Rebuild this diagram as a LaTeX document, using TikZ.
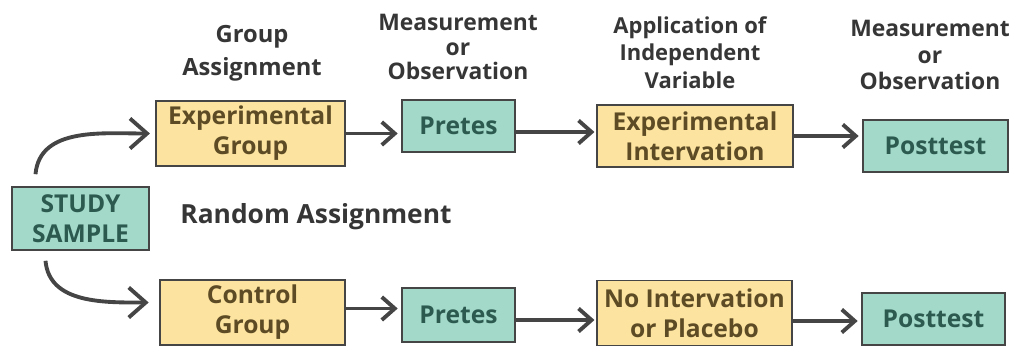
\documentclass[tikz,border=0pt]{standalone}
\usepackage{fontspec}
\setmainfont{Open Sans}
\usepackage{xcolor}
\usepackage{tikz}
\usetikzlibrary{positioning,calc,arrows.meta}
\definecolor{boxyel}{HTML}{FCE3A0}
\definecolor{boxteal}{HTML}{A2D9C9}
\definecolor{txtyel}{HTML}{5C4B24}
\definecolor{txtteal}{HTML}{2C5A4F}
\definecolor{edge}{HTML}{454545}
\definecolor{headtxt}{HTML}{363636}

\begin{document}
\begin{tikzpicture}[
    yelbox/.style={draw=edge, line width=0.9pt, fill=boxyel, text=txtyel, font=\bfseries\fontsize{14}{17}\selectfont, align=center, inner sep=0pt},
    tealbox/.style={draw=edge, line width=0.9pt, fill=boxteal, text=txtteal, font=\bfseries\fontsize{14}{17}\selectfont, align=center, inner sep=0pt},
    head/.style={text=headtxt, font=\bfseries\fontsize{12.5}{14}\selectfont, align=center},
    arr/.style={draw=edge, line width=2.2pt, -{Straight Barb[length=2.6mm,width=4.6mm]}},
    bigarr/.style={draw=edge, line width=2.2pt, -{Straight Barb[length=3.4mm,width=6mm]}}
]
    \useasboundingbox (0,0) rectangle (20.34,7);
    % boxes
    \node[tealbox, minimum width=2.74cm, minimum height=1.26cm] (sample) at (1.61,2.63) {STUDY\\SAMPLE};
    \node[yelbox, minimum width=3.78cm, minimum height=1.30cm] (expgrp) at (5.01,4.33) {Experimental\\Group};
    \node[yelbox, minimum width=3.70cm, minimum height=1.30cm] (ctlgrp) at (5.05,0.75) {Control\\Group};
    \node[tealbox, minimum width=2.26cm, minimum height=1.04cm] (preA) at (9.17,4.48) {Pretes};
    \node[tealbox, minimum width=2.26cm, minimum height=1.08cm] (preB) at (9.17,0.70) {Pretes};
    \node[yelbox, minimum width=3.92cm, minimum height=1.24cm] (expint) at (13.90,4.28) {Experimental\\Intervation};
    \node[yelbox, minimum width=3.90cm, minimum height=1.30cm] (noint) at (13.89,0.74) {No Intervation\\or Placebo};
    \node[tealbox, minimum width=2.90cm, minimum height=1.04cm] (postA) at (18.71,4.08) {Posttest};
    \node[tealbox, minimum width=2.86cm, minimum height=1.04cm] (postB) at (18.67,0.62) {Posttest};
    % headings
    \node[head, font=\bfseries\fontsize{13.5}{19}\selectfont] (hgroup) at (5.04,5.93) {Group\\Assignment};
    \node[head, font=\bfseries\fontsize{13}{14}\selectfont] (hmeasA) at (9.16,6.06) {Measurement\\or\\Observation};
    \node[head, font=\bfseries\fontsize{12.5}{15.5}\selectfont] (happ) at (13.80,5.95) {Application of\\Independent\\Variable};
    \node[head, font=\bfseries\fontsize{13}{15}\selectfont] (hmeasB) at (18.60,5.90) {Measurement\\or\\Observation};
    \node[head, font=\bfseries\fontsize{15}{18}\selectfont] (random) at (6.32,2.66) {Random Assignment};
    % connectors
    \draw[bigarr] ([shift={(-0.9,0.24)}]sample.north) to[out=85,in=180] ([xshift=-3pt]expgrp.west);
    \draw[bigarr] ([shift={(-0.7,-0.2)}]sample.south) to[out=-85,in=180] ([shift={(-6pt,0.2)}]ctlgrp.west);
    \draw[arr] (expgrp.east) -- ([xshift=-2pt]expgrp.east -| preA.west);
    \draw[arr] ([yshift=-0.12cm]preA.east) -- ([yshift=-0.12cm,xshift=-1pt]preA.east -| expint.west);
    \draw[arr] (expint.east) -- ([xshift=-2pt]expint.east -| postA.west);
    \draw[arr] ([yshift=0.08cm]ctlgrp.east) -- ([yshift=0.08cm,xshift=-2pt]ctlgrp.east -| preB.west);
    \draw[arr] ([yshift=-0.1cm]preB.east) -- ([yshift=-0.1cm,xshift=-1pt]preB.east -| noint.west);
    \draw[arr] ([yshift=-0.16cm]noint.east) -- ([yshift=-0.16cm,xshift=-2pt]noint.east -| postB.west);
\end{tikzpicture}
\end{document}
